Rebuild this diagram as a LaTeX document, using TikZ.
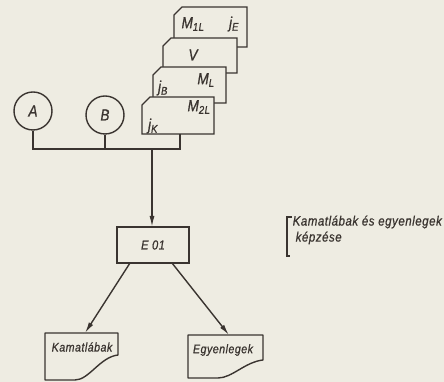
\documentclass[tikz,border=0pt]{standalone}
\usepackage{fontspec}
\newfontfamily\tech[FakeStretch=0.85,LetterSpace=4,FakeBold=0.8]{Liberation Sans}
\usetikzlibrary{arrows.meta,calc}
\definecolor{paper}{RGB}{238,236,226}
\definecolor{ink}{RGB}{58,52,48}
\begin{document}
\begin{tikzpicture}[x=1pt,y=1pt,line width=1.4pt,color=ink,
  cardbox/.style={draw=none,inner sep=0pt,outer sep=0pt},
  cardline/.style={fill=paper,draw=ink,line join=miter},
  lbl/.style={inner sep=0pt,font=\tech\itshape\fontsize{16}{16}\selectfont},
  circ/.style={circle,draw=ink,minimum size=38pt,inner sep=0pt,font=\tech\itshape\fontsize{16}{16}\selectfont},
  proc/.style={rectangle,draw=ink,minimum width=72pt,minimum height=36pt,inner sep=0pt,outer sep=0pt,font=\tech\itshape\fontsize{13}{13}\selectfont},
  docbox/.style={draw=none,inner sep=0pt,outer sep=0pt},
  doclbl/.style={inner sep=0pt,font=\tech\itshape\fontsize{12.5}{12.5}\selectfont},
  annlbl/.style={inner sep=0pt,anchor=west,font=\tech\itshape\fontsize{13.5}{13.5}\selectfont},
  arr/.style={-{Latex[length=11pt,width=5pt]}}]
\fill[paper] (0,0) rectangle (444,382);
\useasboundingbox (0,0) rectangle (444,382);

% stacked cards
\node[cardbox,minimum width=73pt,minimum height=40pt] (c1) at (210.5,355) {};
\filldraw[cardline] ([yshift=-8pt]c1.north west) -- ([xshift=8pt]c1.north west) -- (c1.north east) -- (c1.south east) -- (c1.south west) -- cycle;
\node[lbl] (m1l) at (193,358) {M\textsubscript{1L}};
\node[lbl] (je) at (234,358) {j\textsubscript{E}};

\node[cardbox,minimum width=74pt,minimum height=35pt] (c2) at (200,326.5) {};
\filldraw[cardline] ([yshift=-8pt]c2.north west) -- ([xshift=8pt]c2.north west) -- (c2.north east) -- (c2.south east) -- (c2.south west) -- cycle;
\node[lbl] (v) at (193,327) {V};

\node[cardbox,minimum width=73pt,minimum height=36pt] (c3) at (189.5,297) {};
\filldraw[cardline] ([yshift=-8pt]c3.north west) -- ([xshift=8pt]c3.north west) -- (c3.north east) -- (c3.south east) -- (c3.south west) -- cycle;
\node[lbl] (jb) at (163,294) {j\textsubscript{B}};
\node[lbl] (ml) at (206,302) {M\textsubscript{L}};

\node[cardbox,minimum width=72pt,minimum height=37pt] (c4) at (178,266.5) {};
\filldraw[cardline] ([yshift=-8pt]c4.north west) -- ([xshift=8pt]c4.north west) -- (c4.north east) -- (c4.south east) -- (c4.south west) -- cycle;
\node[lbl] (m2l) at (199,275) {M\textsubscript{2L}};
\node[lbl] (jk) at (153,256) {j\textsubscript{K}};

% circles
\node[circ] (A) at (33,271) {A};
\node[circ] (B) at (105,267) {B};

% process box
\node[proc] (E) at (153,137) {E 01};

% bus and arrow
\coordinate (bus) at (152,233);
\draw (A.south) |- ([xshift=2pt]c4.south |- bus) -- ([xshift=2pt]c4.south);
\draw (B.south) -- (B.south |- bus);
\draw[arr] (bus) -- (bus |- E.north);

% documents
\node[docbox,minimum width=73pt,minimum height=47pt] (K) at (81.5,25.5) {};
\draw[line join=round] (K.north west) -- (K.north east) -- ([yshift=-22pt]K.north east)
  .. controls ([xshift=-18pt,yshift=-24pt]K.north east) and ([xshift=44pt]K.south west) .. ([xshift=30pt]K.south west)
  -- (K.south west) -- cycle;
\node[doclbl] (kt) at (82,35) {Kamatlábak};

\node[docbox,minimum width=75pt,minimum height=43pt] (G) at (225.5,25.5) {};
\draw[line join=round] (G.north west) -- (G.north east) -- ([yshift=-25pt]G.north east)
  .. controls ([xshift=-18pt,yshift=-27pt]G.north east) and ([xshift=44pt]G.south west) .. ([xshift=30pt]G.south west)
  -- (G.south west) -- cycle;
\node[doclbl] (gt) at (223,32) {Egyenlegek};

\draw[arr] ([xshift=-23pt]E.south) -- ([xshift=3.5pt]K.north);
\draw[arr] ([xshift=19pt]E.south) -- ([xshift=3.5pt]G.north);

% annotation
\node[annlbl] (ann1) at (292,160) {Kamatlábak és egyenlegek};
\node[annlbl] (ann2) at (295,144) {képzése};
\draw[line width=1.2pt] (292,165) -- (287,165) -- (287,126) -- (290,126);
\end{tikzpicture}
\end{document}
